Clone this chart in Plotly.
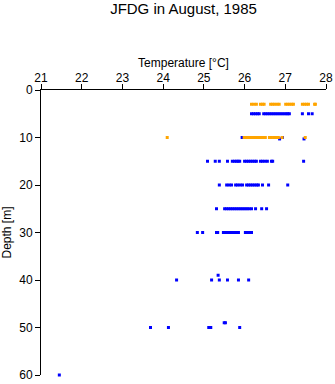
import plotly.graph_objects as go

# Temperature readings [°C] grouped by depth [m]
blue_d5 = [26.17, 26.22, 26.27, 26.32, 26.36, 26.47, 26.52, 26.57, 26.62, 26.67, 26.72,
           26.77, 26.82, 26.87, 26.92, 26.97, 27.02, 27.06, 27.10, 27.42, 27.57, 27.66]
blue_d10 = [25.94, 26.20, 26.40, 26.63, 26.93]
blue_d10_2 = [26.86, 27.46]
blue_d15 = [25.09, 25.28, 25.38, 25.58, 25.70, 25.75, 25.80, 25.84, 25.88, 26.00, 26.05,
            26.10, 26.15, 26.20, 26.25, 26.29, 26.39, 26.44, 26.50, 26.56, 26.66, 26.69, 27.45]
blue_d20 = [25.38, 25.56, 25.62, 25.68, 25.78, 25.83, 25.89, 25.95, 26.05, 26.10, 26.15,
            26.20, 26.25, 26.30, 26.34, 26.44, 26.59, 27.06]
blue_d25 = [25.31, 25.51, 25.56, 25.61, 25.66, 25.71, 25.76, 25.81, 25.86, 25.91, 25.96,
            26.01, 26.06, 26.11, 26.17, 26.27, 26.42, 26.54]
blue_d30 = [24.84, 24.97, 25.31, 25.34, 25.48, 25.53, 25.58, 25.63, 25.68, 25.73, 25.78,
            25.85, 26.02, 26.07, 26.12, 26.17]
blue_d39 = [25.35]
blue_d40 = [24.33, 25.19, 25.38, 25.58, 25.85, 26.10]
blue_d49 = [25.50, 25.53]
blue_d50 = [23.69, 24.13, 25.12, 25.17, 25.88]
blue_d60 = [21.45]

orange_d3 = [26.17, 26.23, 26.29, 26.39, 26.44, 26.48, 26.64, 26.69, 26.74, 26.80, 26.85,
             27.01, 27.06, 27.11, 27.16, 27.20, 27.42, 27.47, 27.52, 27.57, 27.72, 27.74]
orange_d10 = [24.10, 25.99, 26.04, 26.09, 26.14, 26.19, 26.24, 26.29, 26.34, 26.39, 26.44,
              26.49, 26.51, 26.61, 26.66, 26.72, 26.78, 26.83, 26.92, 27.49]

blue_groups = [(5, blue_d5), (10, blue_d10), (10.3, blue_d10_2), (15, blue_d15), (20, blue_d20),
               (25, blue_d25), (30, blue_d30), (39, blue_d39), (40, blue_d40),
               (49, blue_d49), (50, blue_d50), (60, blue_d60)]
orange_groups = [(3, orange_d3), (10, orange_d10)]

x_ticks = [21, 22, 23, 24, 25, 26, 27, 28]
y_ticks = [0, 10, 20, 30, 40, 50, 60]


def flatten(groups):
    xs, ys = [], []
    for depth, temps in groups:
        for t in temps:
            xs.append(t)
            ys.append(depth)
    return xs, ys


bx, by = flatten(blue_groups)
ox, oy = flatten(orange_groups)

FONT = "Liberation Sans, Arial, Helvetica, sans-serif"

fig = go.Figure()
fig.add_trace(go.Scatter(x=bx, y=by, mode="markers", cliponaxis=False,
                         marker=dict(symbol="square", size=3, color="#0000FF", line=dict(width=0)),
                         showlegend=False))
fig.add_trace(go.Scatter(x=ox, y=oy, mode="markers", cliponaxis=False,
                         marker=dict(symbol="square", size=3, color="#FFA500", line=dict(width=0)),
                         showlegend=False))

fig.update_layout(
    width=335, height=384,
    margin=dict(l=41, r=9, t=90, b=9),
    paper_bgcolor="white", plot_bgcolor="white",
    font=dict(family=FONT, size=12, color="black"),
    title=dict(text="JFDG in August, 1985", x=0.5, xref="paper", xanchor="center",
               y=1 - 9 / 384, yanchor="middle", font=dict(size=15, family=FONT)),
    xaxis=dict(range=[21, 28], side="top", tickvals=x_ticks, ticktext=[str(v) for v in x_ticks],
               showline=True, linecolor="black", linewidth=1, ticks="outside", ticklen=5,
               tickcolor="black", showgrid=False, zeroline=False, automargin=False,
               ticklabelstandoff=-3,
               title=dict(text="Temperature [°C]", standoff=1, font=dict(size=12))),
    yaxis=dict(range=[60, 0], tickvals=y_ticks, ticktext=[str(v) for v in y_ticks],
               showline=True, linecolor="black", linewidth=1, ticks="outside", ticklen=5,
               tickcolor="black", showgrid=False, zeroline=False, automargin=False,
               title=dict(text="Depth [m]", standoff=6, font=dict(size=12))),
)

fig.write_html("out.html")
